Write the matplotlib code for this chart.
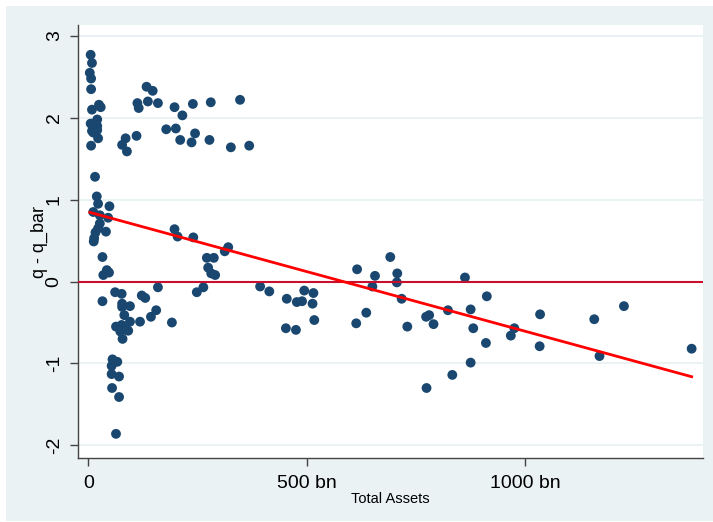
import numpy as np
import matplotlib
matplotlib.use("Agg")
import matplotlib.pyplot as plt
from matplotlib.patches import Rectangle

# total assets (bn) and q - q_bar
assets = [
    5, 8, 3, 6, 6, 8, 24, 28, 20, 5, 20, 11, 20, 22, 6, 8, 15,
    77, 85, 88, 110, 112, 115, 133, 147, 136, 159, 178, 197, 200, 215, 239, 280, 347,
    210, 236, 244, 277, 326, 368,
    19, 22, 48, 11, 26, 45, 26, 22, 40, 16, 13, 12,
    197, 204, 240, 271, 287, 274, 281, 290, 312, 320, 615,
    32, 42, 34, 47,
    159, 61, 76, 32, 77, 95, 122, 130, 155, 77, 82, 63, 76, 95, 91, 73, 78, 118, 143, 191, 87,
    248, 263, 393, 414, 454, 452, 475, 477, 489, 494, 515, 513, 517, 613,
    55, 66, 53, 53, 70, 54, 70, 63,
    636, 650, 656, 691, 707, 706, 717, 730, 773, 780, 774, 790, 823, 833, 862, 875,
    881, 875, 910, 912, 967, 975, 1033, 1034, 1158, 1170, 1226, 1381,
]
q_dev = [
    2.77, 2.67, 2.55, 2.48, 2.35, 2.10, 2.16, 2.13, 1.98, 1.93, 1.90, 1.82, 1.85, 1.75, 1.66, 1.84, 1.28,
    1.67, 1.75, 1.59, 1.78, 2.18, 2.12, 2.38, 2.33, 2.20, 2.18, 1.86, 2.13, 1.87, 2.03, 2.17, 2.19, 2.22,
    1.73, 1.70, 1.81, 1.73, 1.64, 1.66,
    1.04, 0.95, 0.92, 0.85, 0.81, 0.78, 0.71, 0.65, 0.61, 0.60, 0.53, 0.49,
    0.64, 0.55, 0.54, 0.29, 0.29, 0.17, 0.10, 0.08, 0.37, 0.42, 0.15,
    0.30, 0.14, 0.08, 0.11,
    -0.07, -0.13, -0.15, -0.24, -0.27, -0.30, -0.17, -0.20, -0.35, -0.31, -0.41, -0.55, -0.53,
    -0.49, -0.60, -0.61, -0.70, -0.49, -0.43, -0.50, -0.59,
    -0.13, -0.07, -0.06, -0.12, -0.21, -0.57, -0.59, -0.25, -0.24, -0.11, -0.14, -0.27, -0.47, -0.51,
    -0.95, -0.98, -1.03, -1.13, -1.16, -1.30, -1.41, -1.86,
    -0.38, -0.06, 0.07, 0.30, 0.10, -0.01, -0.21, -0.55, -0.43, -0.41, -1.30, -0.52, -0.35, -1.14, 0.05, -0.34,
    -0.57, -0.99, -0.75, -0.18, -0.66, -0.57, -0.79, -0.40, -0.46, -0.91, -0.30, -0.82,
]

# linear fit shown on the chart
fit_intercept = 0.85
fit_slope = -0.001457

x_ticks = [0, 500, 1000]
x_tick_labels = ["0", "500 bn", "1000 bn"]
y_ticks = [-2, -1, 0, 1, 2, 3]

FONT = ["Liberation Sans", "DejaVu Sans"]
NAVY = "#1a476f"
BG = "#eaf2f3"


def main():
    fig = plt.figure(figsize=(7.13, 5.22), dpi=100, facecolor="white")
    # stata-like outer graph region, behind the axes
    fig.patches.append(Rectangle((6 / 713, 1 / 522), 707 / 713, 515 / 522,
                                 transform=fig.transFigure, facecolor=BG,
                                 edgecolor="none", zorder=-10))

    ax = fig.add_axes([78 / 713, 64 / 522, 625 / 713, 433 / 522])
    ax.set_zorder(1)
    ax.set_facecolor("white")

    x = np.array(assets, dtype=float)
    y = np.array(q_dev, dtype=float)

    for t in y_ticks:
        ax.axhline(t, color=BG, lw=1.4, zorder=1)

    ax.scatter(x, y, s=50, color=NAVY, edgecolors="none", zorder=3)
    ax.axhline(0, color="#c8102e", lw=1.5, zorder=4)

    xs = np.array([x.min(), x.max()])
    ax.plot(xs, fit_intercept + fit_slope * xs, color="#ff0000", lw=2, zorder=5)

    ax.set_xlim(-24, 1407)
    ax.set_ylim(-2.155, 3.134)

    ax.set_xticks(x_ticks)
    ax.set_xticklabels(x_tick_labels, fontfamily=FONT, fontsize=14)
    ax.set_yticks(y_ticks)
    ax.set_yticklabels([str(t) for t in y_ticks], fontfamily=FONT, fontsize=14,
                       rotation=90, va="center")

    ax.tick_params(axis="both", direction="out", length=6, width=1,
                   color="#444444", labelcolor="black")
    ax.tick_params(axis="x", pad=6)
    ax.tick_params(axis="y", pad=5)

    for side in ["top", "right"]:
        ax.spines[side].set_visible(False)
    for side in ["left", "bottom"]:
        ax.spines[side].set_color("#444444")
        ax.spines[side].set_linewidth(1)

    ax.set_xlabel("Total Assets", fontfamily=FONT, fontsize=10.5, labelpad=0)
    ax.set_ylabel("q - q_bar", fontfamily=FONT, fontsize=13, labelpad=-2)

    fig.savefig("out.png", dpi=100, facecolor="white")
    plt.close(fig)


if __name__ == "__main__":
    main()
